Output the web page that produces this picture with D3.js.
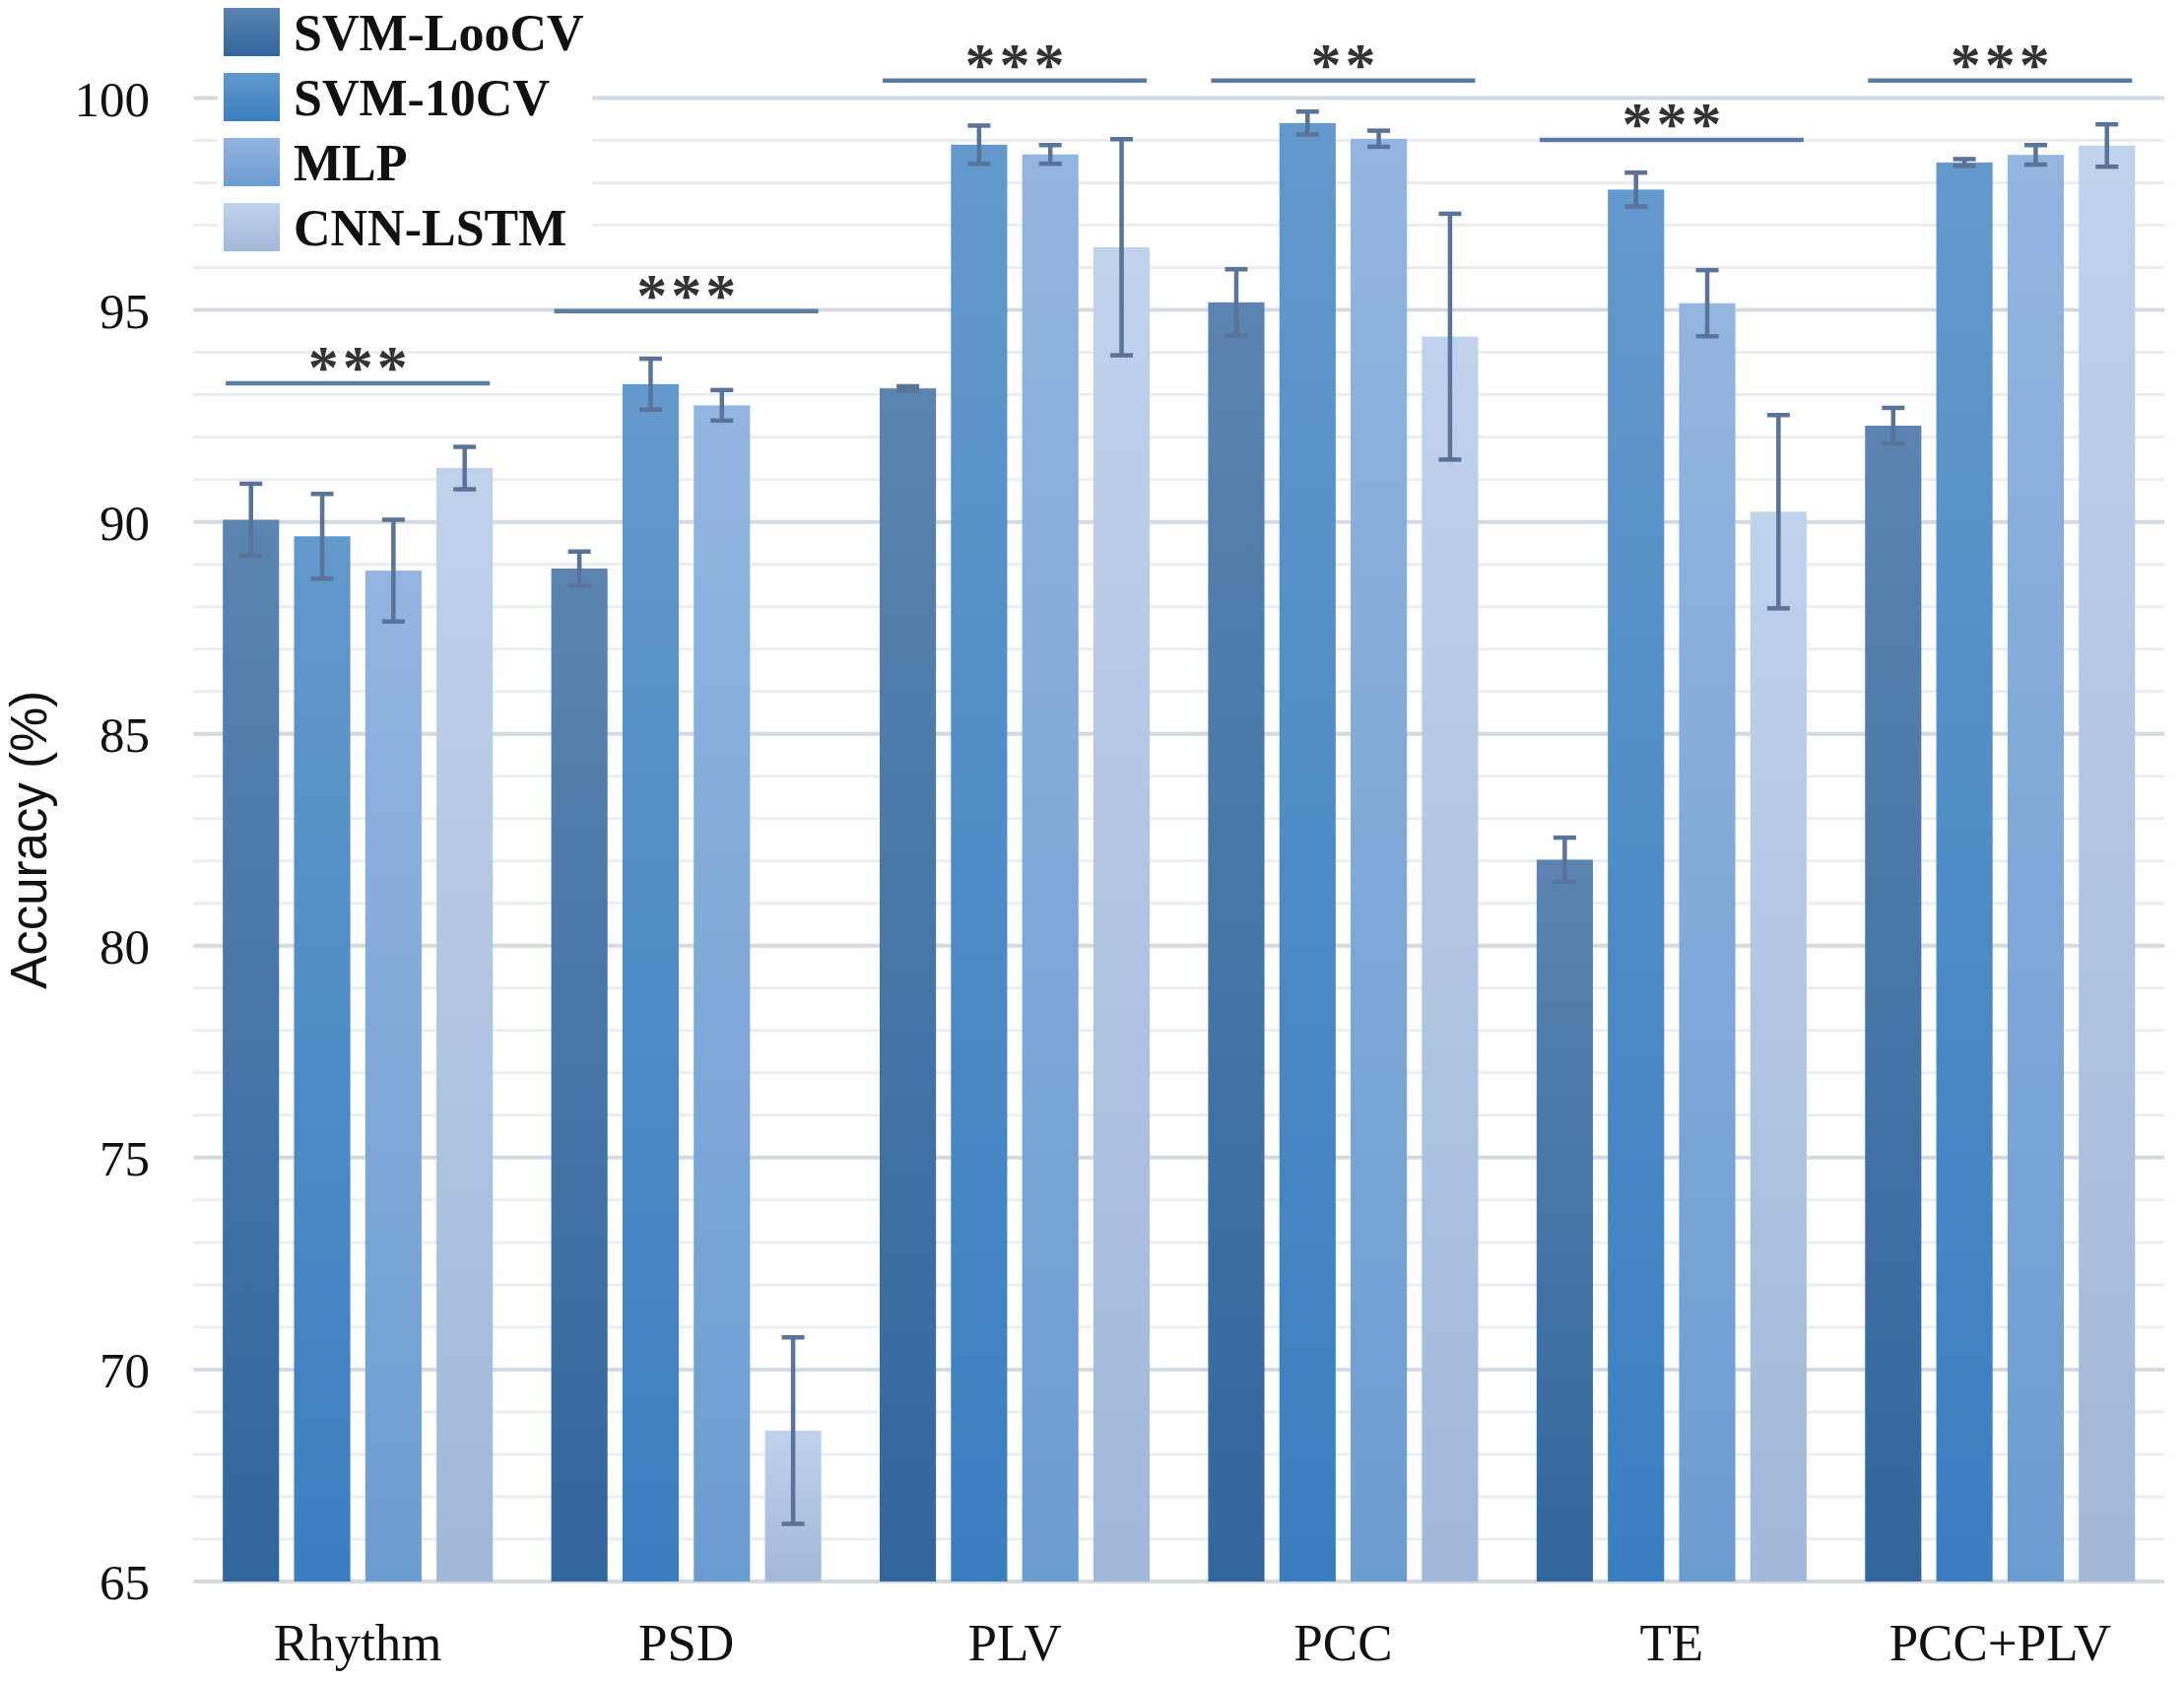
<!DOCTYPE html>
<html>
<head>
<meta charset="utf-8">
<script src="https://cdn.jsdelivr.net/npm/d3@7"></script>
<style>
  html, body { margin: 0; padding: 0; background: #fff; }
  svg { display: block; }
</style>
</head>
<body>
<div id="chart"></div>
<script>
/* ---- data ---- */
const categories = ['Rhythm', 'PSD', 'PLV', 'PCC', 'TE', 'PCC+PLV'];
const seriesNames = ['SVM-LooCV', 'SVM-10CV', 'MLP', 'CNN-LSTM'];

const svmLooCV    = [90.05, 88.90, 93.15, 95.18, 82.03, 92.27];
const svmLooCVErr = [0.85, 0.40, 0.05, 0.78, 0.52, 0.42];
const svm10CV     = [89.66, 93.25, 98.90, 99.41, 97.84, 98.48];
const svm10CVErr  = [1.00, 0.60, 0.45, 0.27, 0.40, 0.08];
const mlp         = [88.85, 92.75, 98.67, 99.04, 95.16, 98.66];
const mlpErr      = [1.20, 0.36, 0.22, 0.19, 0.78, 0.23];
const cnnLstm     = [91.27, 68.56, 96.48, 94.37, 90.24, 98.88];
const cnnLstmErr  = [0.50, 2.20, 2.55, 2.90, 2.28, 0.50];

const sigLevel = [93.27, 94.97, 100.41, 100.41, 99.01, 100.41];
const sigMark  = ['***', '***', '***', '**', '***', '***'];

const yTicks = d3.range(65, 101, 5);
const yGrid  = d3.range(65, 101, 1);

/* ---- styles ---- */
const W = 2217, H = 1706;
const serif = '"Liberation Serif", "Times New Roman", serif';
const sans  = '"Liberation Sans", Arial, sans-serif';
const gradStops = [
  ['#5b84b0', '#31669c'],
  ['#6399cc', '#3b7ec0'],
  ['#93b5e0', '#6c9dd0'],
  ['#c0d2ec', '#a1b8da']
];
const errColor = '#5a7399';

const values = [svmLooCV, svm10CV, mlp, cnnLstm];
const errors = [svmLooCVErr, svm10CVErr, mlpErr, cnnLstmErr];
const rows = [];
categories.forEach((c, ci) => seriesNames.forEach((s, si) =>
  rows.push({cat: c, si, series: s, v: values[si][ci], e: errors[si][ci]})));

const svg = d3.select('#chart').append('svg')
  .attr('width', W).attr('height', H).attr('viewBox', `0 0 ${W} ${H}`);
svg.append('rect').attr('width', W).attr('height', H).attr('fill', '#fff');

const x0 = d3.scaleBand().domain(categories).range([196.5, 2197])
  .paddingInner(0.178).paddingOuter(0.089);
const x1 = d3.scaleBand().domain(d3.range(seriesNames.length)).range([0, x0.bandwidth()])
  .paddingInner(0.21).paddingOuter(0);
const y = d3.scaleLinear().domain([65, 100]).range([1605, 99.5]);

/* gradients */
const defs = svg.append('defs');
gradStops.forEach((g, i) => {
  const lg = defs.append('linearGradient').attr('id', 'grad' + i)
    .attr('x1', 0).attr('y1', 0).attr('x2', 0).attr('y2', 1);
  lg.append('stop').attr('offset', '0%').attr('stop-color', g[0]);
  lg.append('stop').attr('offset', '100%').attr('stop-color', g[1]);
});

/* gridlines */
svg.append('g').selectAll('line').data(yGrid).join('line')
  .attr('x1', 196.5).attr('x2', 2197)
  .attr('y1', d => y(d)).attr('y2', d => y(d))
  .attr('stroke', d => d % 5 === 0 ? '#d4dae1' : '#ebeef1')
  .attr('stroke-width', d => d % 5 === 0 ? 4 : 3);

/* y tick labels */
svg.append('g').selectAll('text').data(yTicks).join('text')
  .attr('x', 152).attr('y', d => y(d)).attr('dy', '0.36em')
  .attr('text-anchor', 'end')
  .style('font-family', serif).style('font-size', '51px').attr('fill', '#111')
  .text(d => d);

/* y axis title */
svg.append('text')
  .attr('transform', `translate(47,${(y(65) + y(100)) / 2}) rotate(-90)`)
  .attr('text-anchor', 'middle')
  .style('font-family', sans).style('font-size', '51px').attr('fill', '#111')
  .text('Accuracy (%)');

/* bars */
const barG = svg.append('g');
barG.selectAll('rect').data(rows).join('rect')
  .attr('x', d => x0(d.cat) + x1(d.si))
  .attr('width', x1.bandwidth())
  .attr('y', d => y(d.v))
  .attr('height', d => y(65) - y(d.v))
  .attr('fill', d => `url(#grad${d.si})`);

/* error bars */
const capW = 23;
const errG = svg.append('g').attr('stroke', errColor).attr('stroke-width', 4.5);
rows.forEach(d => {
  const cx = x0(d.cat) + x1(d.si) + x1.bandwidth() / 2;
  const yt = y(d.v + d.e), yb = y(d.v - d.e);
  errG.append('line').attr('x1', cx).attr('x2', cx).attr('y1', yt).attr('y2', yb);
  errG.append('line').attr('x1', cx - capW / 2).attr('x2', cx + capW / 2).attr('y1', yt).attr('y2', yt);
  errG.append('line').attr('x1', cx - capW / 2).attr('x2', cx + capW / 2).attr('y1', yb).attr('y2', yb);
});

/* significance brackets */
const sigG = svg.append('g');
categories.forEach((c, i) => {
  const yl = y(sigLevel[i]);
  sigG.append('line')
    .attr('x1', x0(c) + 3).attr('x2', x0(c) + x0.bandwidth() - 3)
    .attr('y1', yl).attr('y2', yl)
    .attr('stroke', '#5b7ba2').attr('stroke-width', 4.5);
  sigG.append('text')
    .attr('x', x0(c) + x0.bandwidth() / 2 + 2).attr('y', yl + 4)
    .attr('text-anchor', 'middle')
    .style('font-family', serif).style('font-size', '62px').style('font-weight', 'bold')
    .style('letter-spacing', '4px').attr('fill', '#333')
    .text(sigMark[i]);
});

/* x category labels */
svg.append('g').selectAll('text').data(categories).join('text')
  .attr('x', d => x0(d) + x0.bandwidth() / 2).attr('y', 1685)
  .attr('text-anchor', 'middle')
  .style('font-family', serif).style('font-size', '53px').attr('fill', '#111')
  .text(d => d);

/* legend */
const leg = svg.append('g');
leg.append('rect').attr('x', 221).attr('y', 0).attr('width', 380).attr('height', 265).attr('fill', '#fff');
seriesNames.forEach((s, i) => {
  const yy = 8 + i * 66;
  leg.append('rect').attr('x', 227).attr('y', yy).attr('width', 57).attr('height', 49)
    .attr('fill', `url(#grad${i})`);
  leg.append('text').attr('x', 298).attr('y', yy + 24.5).attr('dy', '0.35em')
    .style('font-family', serif).style('font-size', '52px').style('font-weight', 'bold')
    .attr('fill', '#111').text(s);
});
</script>
</body>
</html>
